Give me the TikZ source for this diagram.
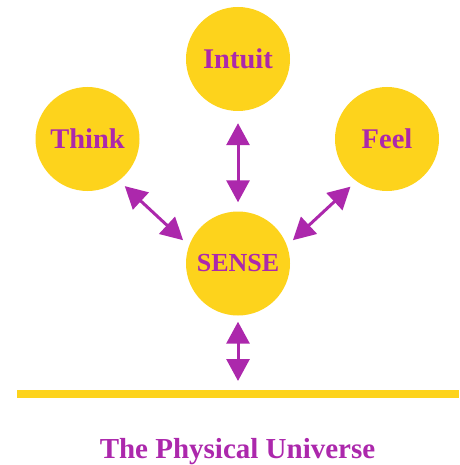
\documentclass[tikz,border=0pt]{standalone}
\usepackage{fontspec}
\setmainfont{Liberation Serif}
\usetikzlibrary{arrows.meta}
\definecolor{sun}{RGB}{253,211,28}
\definecolor{plum}{RGB}{172,40,172}
\begin{document}
\begin{tikzpicture}[x=1pt,y=-1pt,
  ball/.style={circle,fill=sun,minimum size=104pt,inner sep=0pt,text=plum,font=\fontsize{28.5}{30}\selectfont\bfseries},
  link/.style={plum,line width=3pt,{Triangle[width=23pt,length=22pt]}-{Triangle[width=23pt,length=22pt]}}]
\useasboundingbox (0,0) rectangle (459,465);
\node[ball] (intuit) at (238,59) {Intuit};
\node[ball] (think) at (87.5,139) {Think};
\node[ball] (feel) at (387,139) {Feel};
\node[ball,font=\fontsize{26}{28}\selectfont\bfseries] (sense) at (238,263.5) {SENSE};
\coordinate (ground) at (238,381);
\coordinate (gl) at (17,394);
\coordinate (gr) at (459,394);
\draw[sun,line width=8pt] (gl) -- (gr);
\node[anchor=base,text=plum,font=\fontsize{29}{31}\selectfont\bfseries] (univ) at (237.5,458) {The Physical Universe};
\draw[link,shorten <=12pt,shorten >=9pt] (intuit.south) -- (sense.north);
\draw[link,shorten <=8pt,shorten >=8pt] (think.-53) -- (sense.160);
\draw[link,shorten <=8pt,shorten >=8pt] (feel.-126) -- (sense.20);
\draw[link,shorten <=6pt] (sense.south) -- (ground);
\end{tikzpicture}
\end{document}
